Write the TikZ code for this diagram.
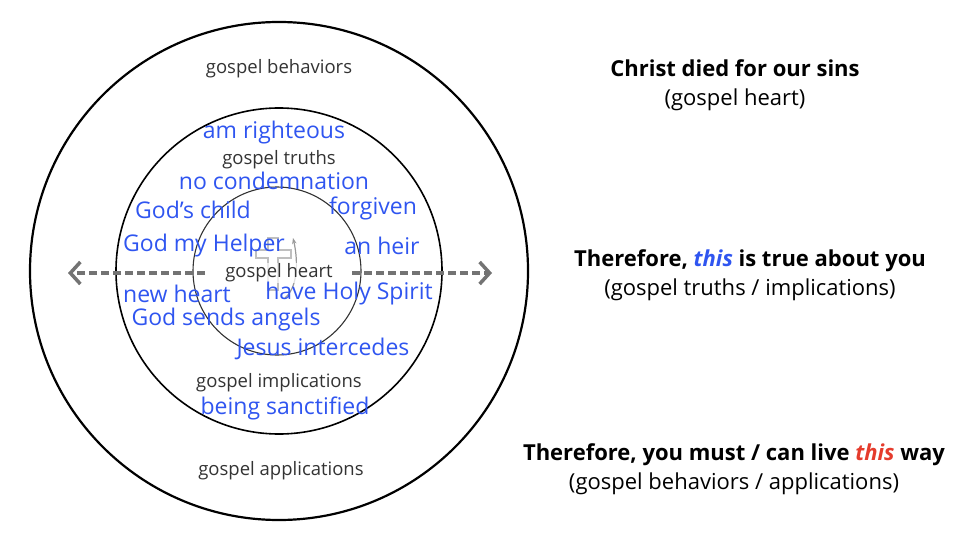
\documentclass[tikz,border=0pt]{standalone}
\usepackage{fontspec}
\setmainfont{Open Sans}
\usetikzlibrary{arrows.meta,positioning}
\definecolor{truthblue}{HTML}{2F55F0}
\definecolor{livered}{HTML}{E53B2C}
\definecolor{labelgray}{HTML}{333333}
\tikzset{
  truth/.style={text=truthblue, font=\fontsize{23}{26}\selectfont, inner sep=0pt},
  ring/.style={font=\fontsize{18.5}{21}\selectfont, text=labelgray, inner sep=0pt},
  side/.style={font=\fontsize{22}{29}\selectfont, align=center, inner sep=0pt}
}
\begin{document}
\begin{tikzpicture}[x=1pt,y=-1pt]
    \useasboundingbox (0,0) rectangle (960,540);

        %-----Circles-----
        \node [circle, draw, line width=2.2pt, minimum size=498pt, inner sep=0pt] (outer) at (279,271) {};
        \node [circle, draw, line width=1.6pt, minimum size=326pt, inner sep=0pt] (middle) at (279,271) {};
        \node [circle, draw=black!80, line width=1.1pt, minimum size=168pt, inner sep=0pt] (inner) at (277,271) {};

        % faint cross
        \draw[black!25, line width=1.2pt] (268,238) -- (278,238) -- (278,250) -- (291,250) -- (291,258)
            -- (278,258) -- (278,290) -- (268,290) -- (268,258) -- (256,258) -- (256,250) -- (268,250) -- cycle;
        \draw[black!40, line width=1.2pt, -{Stealth[length=6pt]}] (285,298) .. controls (300,285) and (297,255) .. (293,238);

        %-----Dashed arrows-----
        \coordinate (lstart) at (205,273);
        \coordinate (lend) at (68,273);
        \coordinate (rstart) at (352,273);
        \coordinate (rend) at (492,273);
        \draw[black!55, line width=4pt, dash pattern=on 8pt off 4pt, -{Straight Barb[length=10pt,width=22pt,line width=3.5pt]}] (lstart) -- (lend);
        \draw[black!55, line width=4pt, dash pattern=on 8pt off 4pt, -{Straight Barb[length=10pt,width=22pt,line width=3.5pt]}] (rstart) -- (rend);

        %-----Ring labels-----
        \node [ring] (behav) at (279,69) {gospel behaviors};
        \node [ring] (truths) at (279,160) {gospel truths};
        \node [ring, fill=white, fill opacity=0.7, text opacity=1, inner sep=1pt] (heart) at (279,273) {gospel heart};
        \node [ring] (impl) at (279,383) {gospel implications};
        \node [ring] (appl) at (281,471) {gospel applications};

        %-----Truths-----
        \node [truth] (righteous) at (274,133) {am righteous};
        \node [truth] (nocond) at (274,181) {no condemnation};
        \node [truth] (child) at (193,210) {God’s child};
        \node [truth] (forgiven) at (373,208) {forgiven};
        \node [truth] (helper) at (204,246) {God my Helper};
        \node [truth] (heir) at (382,246) {an heir};
        \node [truth] (newheart) at (177,294) {new heart};
        \node [truth] (spirit) at (349,294) {have Holy Spirit};
        \node [truth] (angels) at (226,320) {God sends angels};
        \node [truth] (jesus) at (323,349) {Jesus intercedes};
        \node [truth] (sanct) at (285,408) {being sanctified};

        %-----Side texts-----
        \node [side] (heartside) at (735,85) {\textbf{Christ died for our sins}\\(gospel heart)};
        \node [side] (truthside) at (750,275) {\textbf{Therefore, \textcolor{truthblue}{\itshape this} is true about you}\\(gospel truths / implications)};
        \node [side] (liveside) at (734,469) {\textbf{Therefore, you must / can live \textcolor{livered}{\itshape this} way}\\(gospel behaviors / applications)};

\end{tikzpicture}
\end{document}
